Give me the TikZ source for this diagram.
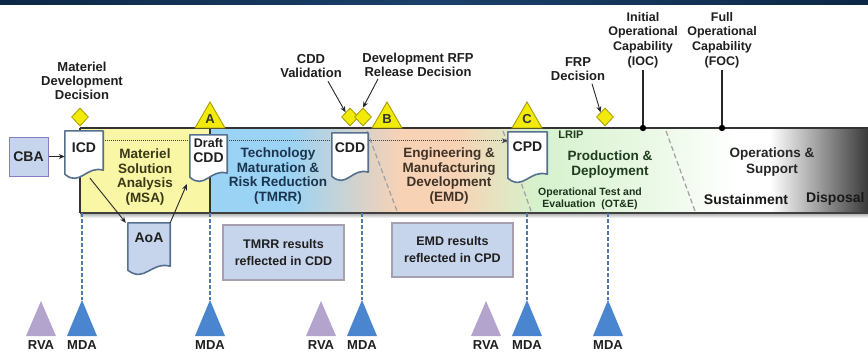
\documentclass[tikz,border=0pt]{standalone}
\usepackage{fontspec}
\setmainfont{Liberation Sans}
\usetikzlibrary{arrows.meta,shapes.geometric,calc}
\pgfdeclarelayer{bandlayer}
\pgfdeclarelayer{doclayer}
\pgfsetlayers{bandlayer,doclayer,main}

\definecolor{navyband}{HTML}{0D2746}
\definecolor{navylight}{HTML}{1B416A}
\definecolor{msay}{HTML}{F9F6A6}
\definecolor{tmrrb}{HTML}{9BD3F4}
\definecolor{emdp}{HTML}{F8D2B4}
\definecolor{pdg}{HTML}{D5F2CC}
\definecolor{pdgpale}{HTML}{EAF8E5}
\definecolor{osdark}{HTML}{3A3A3A}
\definecolor{msfill}{HTML}{F2EB0A}
\definecolor{msedge}{HTML}{A89B00}
\definecolor{docedge}{HTML}{56708F}
\definecolor{boxfill}{HTML}{C7D5EC}
\definecolor{boxedge}{HTML}{A59FB0}
\definecolor{mdablue}{HTML}{4A86CF}
\definecolor{rvapurple}{HTML}{B3A4CE}
\definecolor{dashblue}{HTML}{4F79AE}
\definecolor{phasegray}{HTML}{A0A0A0}
\definecolor{msatext}{HTML}{3B3915}
\definecolor{tmrrtext}{HTML}{1B3550}
\definecolor{emdtext}{HTML}{3F3328}
\definecolor{pdtext}{HTML}{1E3D1E}

% wavy-bottom document outline around a frame node: name, fill, width
\newcommand\docoutline[3]{%
  \filldraw[docline, fill=#2]
    (#1.north west) -- (#1.north east) -- ($(#1.south east)+(0,-8)$)
    .. controls ($(#1.south east)+(-0.45*#3,-13)$) and ($(#1.south west)+(0.4*#3,9)$)
    .. ($(#1.south west)+(0,-4)$) -- cycle;}

\begin{document}
\begin{tikzpicture}[x=1pt,y=-1pt,
  lbl/.style={inner sep=0pt, align=center, text=black!88},
  toplbl/.style={lbl, font=\fontsize{13}{14}\selectfont\bfseries},
  ioclbl/.style={lbl, font=\fontsize{12.5}{14.7}\selectfont\bfseries},
  phase/.style={lbl, font=\fontsize{13.5}{14.5}\selectfont\bfseries},
  doctxt/.style={lbl, font=\fontsize{14}{15}\selectfont\bfseries},
  docframe/.style={inner sep=0pt, draw=none},
  docline/.style={draw=docedge, line width=1.6pt, line join=round},
  cbabox/.style={lbl, draw=boxedge!80!blue, line width=1pt, fill=boxfill,
    font=\fontsize{14}{15}\selectfont\bfseries},
  resbox/.style={lbl, draw=boxedge, line width=1.2pt, fill=boxfill,
    font=\fontsize{12.5}{17}\selectfont\bfseries},
  msdiamond/.style={diamond, inner sep=0pt, minimum width=17pt, minimum height=18pt,
    fill=msfill, draw=msedge, line width=0.8pt},
  mstri/.style={regular polygon, regular polygon sides=3, inner sep=0pt,
    minimum size=34.6pt, fill=msfill, draw=msedge, line width=0.9pt,
    font=\fontsize{13}{13}\selectfont\bfseries, text=black!80},
  botlbl/.style={lbl, font=\fontsize{13}{13}\selectfont\bfseries},
  pointer/.style={-{Stealth[length=6pt,width=5pt]}, line width=0.9pt, black!85},
  mdadash/.style={dashblue, line width=1.6pt, dash pattern=on 4pt off 2pt},
  phasedash/.style={phasegray, line width=1.2pt, dash pattern=on 5pt off 3pt},
  bandrule/.style={black!80, line width=2.4pt},
]
\useasboundingbox (0,0) rectangle (868,354);

% ---- band corners ----
\coordinate (bandtl) at (80,128);
\coordinate (bandtr) at (868,128);
\coordinate (bandbl) at (80,213);
\coordinate (bandbr) at (868,213);
\coordinate (msasplit) at (210,128);

% ---- milestone labels ----
\node[toplbl] (mddlbl) at (82,81) {Materiel\\Development\\Decision};
\node[toplbl] (cddvlbl) at (311,66.5) {CDD\\Validation};
\node[toplbl] (rfplbl) at (418,65) {Development RFP\\Release Decision};
\node[toplbl] (frplbl) at (578,69) {FRP\\Decision};
\node[ioclbl] (ioclbl) at (643,40) {Initial\\Operational\\Capability\\(IOC)};
\node[ioclbl] (foclbl) at (722,40) {Full\\Operational\\Capability\\(FOC)};

% ---- decision points and milestones ----
\node[msdiamond] (dmdd) at (80,117) {};
\node[msdiamond] (dcddv) at (350,117) {};
\node[msdiamond] (drfp) at (363,117) {};
\node[msdiamond] (dfrp) at (605,117) {};
\node[mstri] (msA) at (210,119.3) {A};
\node[mstri] (msB) at (387,119.3) {B};
\node[mstri] (msC) at (527,119.3) {C};

\draw[pointer] ([xshift=17pt,yshift=-3pt]cddvlbl.south) -- (dcddv.north west);
\draw[pointer] ([xshift=-40pt,yshift=-2pt]rfplbl.south) -- (drfp.north);
\draw[pointer] ([xshift=14pt,yshift=-3pt]frplbl.south) -- (dfrp.north west);

\coordinate (iocpt) at (ioclbl.south |- bandtl);
\coordinate (focpt) at (foclbl.south |- bandtl);
\draw[black!85, line width=1.3pt] ([yshift=-2pt]ioclbl.south) -- (iocpt);
\draw[black!85, line width=1.3pt] ([yshift=-2pt]foclbl.south) -- (focpt);
\fill[black] (iocpt) circle (3.2pt);
\fill[black] (focpt) circle (3.2pt);

% ---- documents ----
\node[docframe, minimum width=38pt, minimum height=47pt] (icd) at (84,154.5) {};
\node[docframe, minimum width=37pt, minimum height=46pt] (dcdd) at (208.5,158) {};
\node[docframe, minimum width=36pt, minimum height=47pt] (cdd) at (350,156.5) {};
\node[docframe, minimum width=39pt, minimum height=50pt] (cpd) at (527.5,157) {};
\node[docframe, minimum width=42pt, minimum height=51pt] (aoa) at (149,248.5) {};

\node[doctxt, anchor=north] (icdtxt) at ([yshift=-12pt]icd.north) {ICD};
\node[doctxt, anchor=north] (dcddtxt) at ([yshift=-3pt]dcdd.north)
  {{\fontsize{12.5}{15}\selectfont Draft}\\CDD};
\node[doctxt, anchor=north] (cddtxt) at ([yshift=-10pt]cdd.north) {CDD};
\node[doctxt, anchor=north] (cpdtxt) at ([yshift=-10pt]cpd.north) {CPD};
\node[doctxt, anchor=north] (aoatxt) at ([yshift=-10pt]aoa.north) {AoA};

\begin{pgfonlayer}{doclayer}
  \docoutline{icd}{white}{38}
  \docoutline{dcdd}{white}{37}
  \docoutline{cdd}{white}{36}
  \docoutline{cpd}{white}{39}
  \docoutline{aoa}{boxfill}{42}
\end{pgfonlayer}

\node[cbabox, minimum width=39pt, minimum height=39pt] (cba) at (28.5,156.5) {CBA};
\draw[pointer, line width=1.2pt] (cba.east) -- (cba.east -| icd.west);
\draw[pointer] ([xshift=6pt]icd.south) -- ([xshift=-2pt]aoa.north west);
\draw[pointer] (aoa.north east) -- ([xshift=-3pt,yshift=-3pt]dcdd.south west);

% ---- phase names ----
\node[phase, text=msatext] (msatxt) at (145,177) {Materiel\\Solution\\Analysis\\(MSA)};
\node[phase, text=tmrrtext] (tmrrtxt) at (278,176) {Technology\\Maturation \&\\Risk Reduction\\(TMRR)};
\node[phase, text=emdtext] (emdtxt) at (449,176) {Engineering \&\\Manufacturing\\Development\\(EMD)};
\node[phase, text=pdtext, font=\fontsize{13.5}{15}\selectfont\bfseries] (pdtxt) at (610,165)
  {Production \&\\Deployment};
\node[lbl, text=pdtext, font=\fontsize{11}{11}\selectfont\bfseries] (lrip) at (571,135) {LRIP};
\node[lbl, text=pdtext!85!black, font=\fontsize{10.5}{12}\selectfont\bfseries] (ote) at (590,199)
  {Operational Test and\\Evaluation \ (OT\&E)};
\node[phase, text=black!85, font=\fontsize{13.5}{16}\selectfont\bfseries] (ostxt) at (772,162)
  {Operations \&\\Support};
\node[lbl, text=black!90, font=\fontsize{14}{14}\selectfont\bfseries] (sust) at (746,199) {Sustainment};
\node[lbl, text=black!90, font=\fontsize{14}{14}\selectfont\bfseries, anchor=west] (disp) at (806,199) {Disposal};

% ---- result boxes ----
\node[resbox, minimum width=121pt, minimum height=55pt] (tmrrres) at (283.5,252.5)
  {TMRR results\\reflected in CDD};
\node[resbox, minimum width=121pt, minimum height=54pt] (emdres) at (452.5,250)
  {EMD results\\reflected in CPD};

% ---- reviews below the band ----
\foreach \nm/\xx in {mda1/82, mda2/210, mda3/362, mda4/527, mda5/608} {
  \node[botlbl] (\nm) at (\xx,345) {MDA};
  \coordinate (\nm top) at (\xx,300);
  \fill[mdablue] (\nm top) -- ++(15,36) -- ++(-30,0) -- cycle;
  \draw[mdadash] (\nm top |- bandbl) -- (\nm top);
}
\foreach \nm/\xx in {rva1/41, rva2/321, rva3/486} {
  \node[botlbl] (\nm) at (\xx,345) {RVA};
  \coordinate (\nm top) at (\xx,301);
  \fill[rvapurple] (\nm top) -- ++(15,35) -- ++(-30,0) -- cycle;
}

% ---- page background and the life-cycle band ----
\begin{pgfonlayer}{bandlayer}
  \fill[white] (0,0) rectangle (868,354);
  \shade[left color=navyband, right color=navylight] (0,0) rectangle (434.5,4.5);
  \shade[left color=navylight, right color=navyband] (434,0) rectangle (868,4.5);
  \fill[msay] (80,128) rectangle (210,213);
  \fill[tmrrb] (210,128) rectangle (290.5,213);
  \shade[left color=tmrrb, right color=emdp] (290,128) rectangle (400.5,213);
  \fill[emdp] (400,128) rectangle (455.5,213);
  \shade[left color=emdp, right color=pdg] (455,128) rectangle (535.5,213);
  \shade[left color=pdg, right color=pdgpale] (535,128) rectangle (650.5,213);
  \shade[left color=pdgpale, right color=white] (650,128) rectangle (735.5,213);
  \fill[white] (735,128) rectangle (770.5,213);
  \shade[left color=white, right color=osdark] (770,128) rectangle (868,213);
  \shade[top color=black!35, bottom color=white] (80,213) rectangle (868,218);
  \draw[phasedash] (367,131) -- (397,211);
  \draw[phasedash] (503,131) -- (531,211);
  \draw[phasedash] (666,131) -- (695,211);
  \draw[black!75, line width=1pt, densely dotted, -{Stealth[length=6pt,width=5pt]}]
    ([yshift=-10pt]icd.north east) -- ([yshift=-9pt]cpd.north west);
  \draw[bandrule] (bandtl) -- (bandtr);
  \draw[black!75, line width=2pt] (bandbl) -- (bandbr);
  \draw[black!80, line width=1.5pt] (bandtl) -- (bandbl);
  \draw[black!80, line width=1.5pt] (msasplit) -- (msasplit |- bandbl);
\end{pgfonlayer}
\end{tikzpicture}
\end{document}
